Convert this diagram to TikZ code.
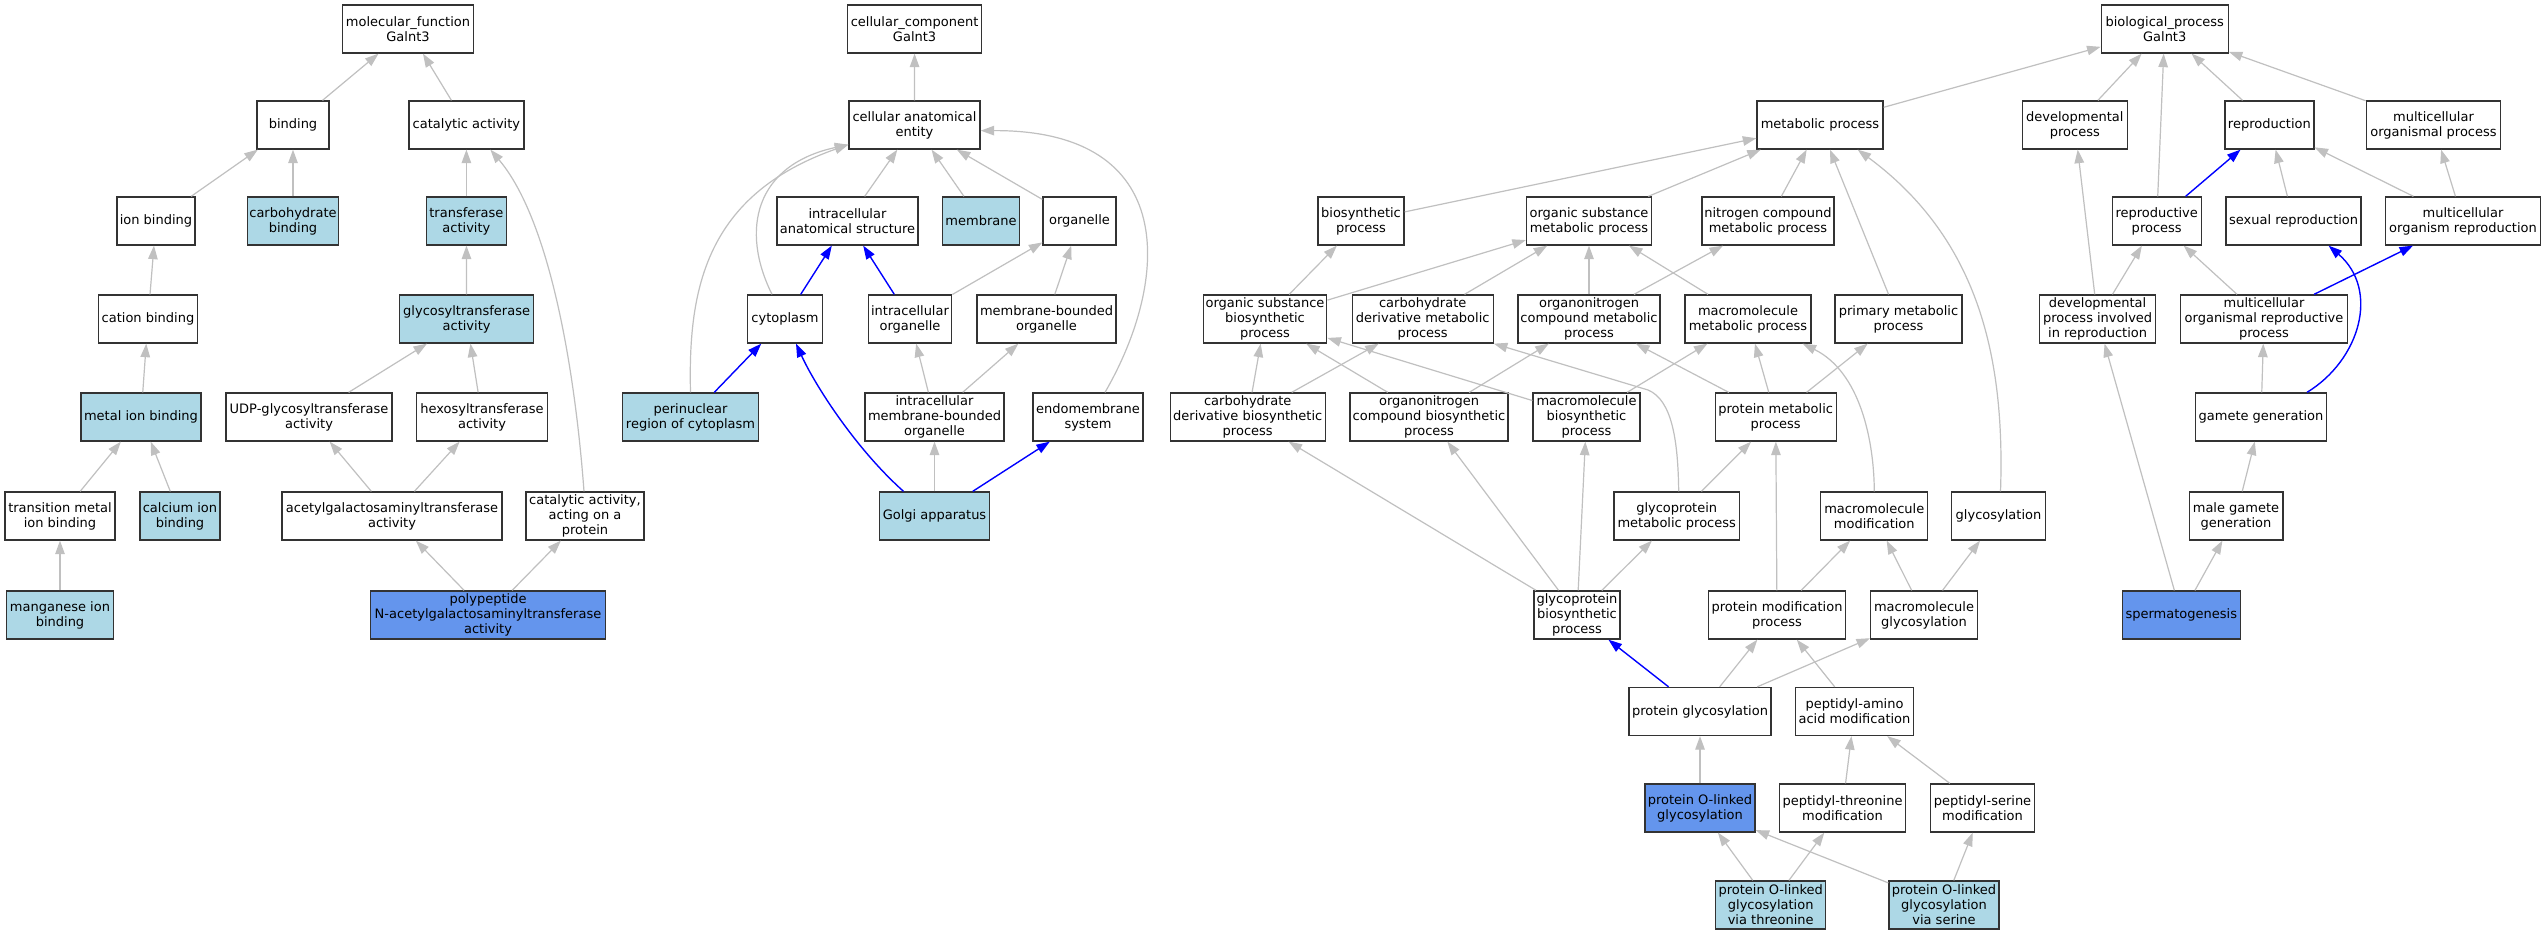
\documentclass[tikz,border=0pt]{standalone}
\usepackage{fontspec}
\setmainfont{DejaVu Sans}
\usetikzlibrary{arrows.meta}
\definecolor{lb}{HTML}{ADD8E6}
\definecolor{cb}{HTML}{6495ED}
\definecolor{eg}{HTML}{C0C0C0}
\definecolor{bd}{HTML}{333333}
\tikzset{
  box/.style={draw=bd, line width=1.3pt, fill=white, minimum height=48pt, inner xsep=2pt, inner ysep=1pt, align=center, font=\fontsize{13}{15}\selectfont},
  lbbox/.style={box, fill=lb},
  cbbox/.style={box, fill=cb},
  ge/.style={draw=eg, line width=1.2pt, -{Triangle[length=13.5pt,width=9.5pt]}, color=eg},
  be/.style={draw=blue, line width=1.4pt, -{Triangle[length=13.5pt,width=9.5pt]}, color=blue},
}
\begin{document}
\begin{tikzpicture}[x=1pt,y=-1pt]
\useasboundingbox (0,0) rectangle (2541,936);
\fill[white] (0,0) rectangle (2541,936);
% ---------- molecular function ----------
\node[box, minimum width=131pt] (mf) at (408,29) {molecular\_function\\Galnt3};
\node[box, minimum width=72pt] (bind) at (293,125) {binding};
\node[box, minimum width=115pt] (cat) at (466.4,125) {catalytic activity};
\node[box, minimum width=78pt] (ionb) at (156,221) {ion binding};
\node[lbbox, minimum width=91pt] (carbb) at (293,221) {carbohydrate\\binding};
\node[lbbox, minimum width=80pt] (trans) at (466.4,221) {transferase\\activity};
\node[box, minimum width=99pt] (cationb) at (148,319) {cation binding};
\node[lbbox, minimum width=134pt] (glyct) at (466.6,319) {glycosyltransferase\\activity};
\node[lbbox, minimum width=120pt] (metalb) at (141,417) {metal ion binding};
\node[box, minimum width=166pt] (udp) at (309,417) {UDP-glycosyltransferase\\activity};
\node[box, minimum width=130.5pt] (hexo) at (482,417) {hexosyltransferase\\activity};
\node[box, minimum width=110pt] (transm) at (60,516) {transition metal\\ion binding};
\node[lbbox, minimum width=80pt] (calc) at (180,516) {calcium ion\\binding};
\node[box, minimum width=220pt] (acetyl) at (392,516) {acetylgalactosaminyltransferase\\activity};
\node[box, minimum width=118pt] (catprot) at (585,516) {catalytic activity,\\acting on a\\protein};
\node[lbbox, minimum width=107pt] (mang) at (60,615) {manganese ion\\binding};
\node[cbbox, minimum width=235pt] (poly) at (488,615) {polypeptide\\N-acetylgalactosaminyltransferase\\activity};
% ---------- cellular component ----------
\node[box, minimum width=134pt] (cc) at (914.6,29) {cellular\_component\\Galnt3};
\node[box, minimum width=131pt] (cae) at (914.5,125) {cellular anatomical\\entity};
\node[box, minimum width=141pt] (ias) at (847.5,221) {intracellular\\anatomical structure};
\node[lbbox, minimum width=77.5pt] (memb) at (981,221) {membrane};
\node[box, minimum width=73pt] (org) at (1079.5,221) {organelle};
\node[box, minimum width=74.6pt] (cyto) at (785,319) {cytoplasm};
\node[box, minimum width=83.6pt] (io) at (910,319) {intracellular\\organelle};
\node[box, minimum width=139pt] (mbo) at (1046.5,319) {membrane-bounded\\organelle};
\node[lbbox, minimum width=136pt] (peri) at (690.5,417) {perinuclear\\region of cytoplasm};
\node[box, minimum width=139pt] (imbo) at (934.5,417) {intracellular\\membrane-bounded\\organelle};
\node[box, minimum width=110pt] (endo) at (1088,417) {endomembrane\\system};
\node[lbbox, minimum width=110pt] (golgi) at (934.5,516) {Golgi apparatus};
% ---------- biological process ----------
\node[box, minimum width=127pt] (bp) at (2164.7,29) {biological\_process\\Galnt3};
\node[box, minimum width=126pt] (mp) at (1820,125) {metabolic process};
\node[box, minimum width=105pt] (dev) at (2074.8,125) {developmental\\process};
\node[box, minimum width=89pt] (repro) at (2269.4,125) {reproduction};
\node[box, minimum width=134.5pt] (mop) at (2433.5,125) {multicellular\\organismal process};
\node[box, minimum width=86pt] (bs) at (1361,221) {biosynthetic\\process};
\node[box, minimum width=125pt] (osmp) at (1589,221) {organic substance\\metabolic process};
\node[box, minimum width=132pt] (ncmp) at (1768,221) {nitrogen compound\\metabolic process};
\node[box, minimum width=89pt] (rp) at (2156.7,221) {reproductive\\process};
\node[box, minimum width=135pt] (sr) at (2293.6,221) {sexual reproduction};
\node[box, minimum width=154.5pt] (mor) at (2463,221) {multicellular\\organism reproduction};
\node[box, minimum width=123.5pt] (osbp) at (1265,319) {organic substance\\biosynthetic\\process};
\node[box, minimum width=141pt] (cdmp) at (1422.7,319) {carbohydrate\\derivative metabolic\\process};
\node[box, minimum width=142pt] (oncmp) at (1589,319) {organonitrogen\\compound metabolic\\process};
\node[box, minimum width=126pt] (mmp) at (1748,319) {macromolecule\\metabolic process};
\node[box, minimum width=127pt] (pmp) at (1898.5,319) {primary metabolic\\process};
\node[box, minimum width=116pt] (dpir) at (2097.6,319) {developmental\\process involved\\in reproduction};
\node[box, minimum width=167pt] (morp) at (2264,319) {multicellular\\organismal reproductive\\process};
\node[box, minimum width=155pt] (cdbp) at (1247.7,417) {carbohydrate\\derivative biosynthetic\\process};
\node[box, minimum width=158pt] (oncbp) at (1429,417) {organonitrogen\\compound biosynthetic\\process};
\node[box, minimum width=107pt] (mbp) at (1586.5,417) {macromolecule\\biosynthetic\\process};
\node[box, minimum width=121pt] (protmp) at (1775.7,417) {protein metabolic\\process};
\node[box, minimum width=131pt] (gg) at (2261,417) {gamete generation};
\node[box, minimum width=125.4pt] (gmp) at (1676.7,516) {glycoprotein\\metabolic process};
\node[box, minimum width=107pt] (mm) at (1874.3,516) {macromolecule\\modification};
\node[box, minimum width=93.7pt] (glyc) at (1998.5,516) {glycosylation};
\node[box, minimum width=93.7pt] (mgg) at (2236,516) {male gamete\\generation};
\node[box, minimum width=86pt] (gbp) at (1577,615) {glycoprotein\\biosynthetic\\process};
\node[box, minimum width=137pt] (pmod) at (1777,615) {protein modification\\process};
\node[box, minimum width=106.7pt] (mg) at (1924,615) {macromolecule\\glycosylation};
\node[cbbox, minimum width=118pt] (sperm) at (2181.3,615) {spermatogenesis};
\node[box, minimum width=142pt] (pg) at (1700,711.5) {protein glycosylation};
\node[box, minimum width=118pt] (paam) at (1854.5,711.5) {peptidyl-amino\\acid modification};
\node[cbbox, minimum width=110pt] (pol) at (1700,808) {protein O-linked\\glycosylation};
\node[box, minimum width=126pt] (ptm) at (1842.5,808) {peptidyl-threonine\\modification};
\node[box, minimum width=104pt] (psm) at (1982.5,808) {peptidyl-serine\\modification};
\node[lbbox, minimum width=110pt] (vt) at (1770.7,905) {protein O-linked\\glycosylation\\via threonine};
\node[lbbox, minimum width=110pt] (vs) at (1944,905) {protein O-linked\\glycosylation\\via serine};
% ---------- edges: molecular function ----------
\draw[ge] (bind) -- (mf);
\draw[ge] (cat) -- (mf);
\draw[ge] (ionb) -- (bind);
\draw[ge] (carbb) -- (bind);
\draw[ge] (trans) -- (cat);
\draw[ge] (glyct) -- (trans);
\draw[ge] (cationb) -- (ionb);
\draw[ge] (metalb) -- (cationb);
\draw[ge] (transm) -- (metalb);
\draw[ge] (calc) -- (metalb);
\draw[ge] (mang) -- (transm);
\draw[ge] (udp) -- (glyct);
\draw[ge] (hexo) -- (glyct);
\draw[ge] (acetyl) -- (udp);
\draw[ge] (acetyl) -- (hexo);
\draw[ge] (poly) -- (acetyl);
\draw[ge] (poly) -- (catprot);
\draw[ge] ([xshift=-1pt]catprot.north) .. controls (575,370) and (550,220) .. ([xshift=24pt]cat.south);
% ---------- edges: cellular component ----------
\draw[ge] (cae) -- (cc);
\draw[ge] (ias) -- (cae);
\draw[ge] (memb) -- (cae);
\draw[ge] (org) -- (cae);
\draw[ge] ([xshift=-13pt]cyto.north) .. controls (740,230) and (755,165) .. ([yshift=5pt]cae.south west);
\draw[ge] (peri.north) .. controls (688,290) and (705,195) .. ([yshift=5pt]cae.south west);
\draw[ge] ([xshift=17pt]endo.north) .. controls (1170,280) and (1180,130) .. ([yshift=19pt]cae.south east);
\draw[ge] (io) -- (org);
\draw[ge] (mbo) -- (org);
\draw[ge] (imbo) -- (io);
\draw[ge] (imbo) -- (mbo);
\draw[ge] (golgi) -- (imbo);
\draw[be] (cyto) -- (ias);
\draw[be] (io) -- (ias);
\draw[be] (peri) -- (cyto);
\draw[be] ([xshift=-31pt]golgi.north) .. controls (855,448) and (815,385) .. ([xshift=11pt]cyto.south);
\draw[be] (golgi) -- (endo);
% ---------- edges: biological process ----------
\draw[ge] (mp) -- (bp);
\draw[ge] (dev) -- (bp);
\draw[ge] (rp) -- (bp);
\draw[ge] (repro) -- (bp);
\draw[ge] (mop) -- (bp);
\draw[ge] (bs) -- (mp);
\draw[ge] (osmp) -- (mp);
\draw[ge] (ncmp) -- (mp);
\draw[ge] (pmp) -- (mp);
\draw[ge] ([xshift=2pt]glyc.north) .. controls (2005,360) and (1980,240) .. ([xshift=-26pt]mp.south east);
\draw[ge] (sr) -- (repro);
\draw[ge] (mor) -- (repro);
\draw[ge] (mor) -- (mop);
\draw[ge] (osbp) -- (bs);
\draw[ge] (osbp) -- (osmp);
\draw[ge] (cdmp) -- (osmp);
\draw[ge] (oncmp) -- (osmp);
\draw[ge] (oncmp) -- (ncmp);
\draw[ge] (mmp) -- (osmp);
\draw[ge] (dpir) -- (dev);
\draw[ge] (dpir) -- (rp);
\draw[ge] (morp) -- (rp);
\draw[ge] (cdbp) -- (osbp);
\draw[ge] (cdbp) -- (cdmp);
\draw[ge] (oncbp) -- (osbp);
\draw[ge] (oncbp) -- (oncmp);
\draw[ge] (mbp) -- (osbp);
\draw[ge] (mbp) -- (mmp);
\draw[ge] (protmp) -- (oncmp);
\draw[ge] (protmp) -- (mmp);
\draw[ge] (protmp) -- (pmp);
\draw[ge] (gg) -- (morp);
\draw[ge] ([xshift=2pt]gmp.north) .. controls (1678,440) and (1672,400) .. (1648,390) -- (cdmp.south east);
\draw[ge] (gmp) -- (protmp);
\draw[ge] (mm.north) .. controls (1874,440) and (1860,372) .. ([xshift=-9pt]mmp.south east);
\draw[ge] (mgg) -- (gg);
\draw[ge] (gbp) -- (cdbp);
\draw[ge] (gbp) -- (oncbp);
\draw[ge] (gbp) -- (mbp);
\draw[ge] (gbp) -- (gmp);
\draw[ge] (pmod) -- (protmp);
\draw[ge] (pmod) -- (mm);
\draw[ge] (mg) -- (mm);
\draw[ge] (mg) -- (glyc);
\draw[ge] (sperm) -- (mgg);
\draw[ge] (sperm) -- (dpir);
\draw[ge] (pg) -- (pmod);
\draw[ge] (pg) -- (mg);
\draw[ge] (paam) -- (pmod);
\draw[ge] (pol) -- (pg);
\draw[ge] (ptm) -- (paam);
\draw[ge] (psm) -- (paam);
\draw[ge] (vt) -- (pol);
\draw[ge] (vt) -- (ptm);
\draw[ge] (vs) -- (pol);
\draw[ge] (vs) -- (psm);
\draw[be] (rp) -- (repro);
\draw[be] (morp) -- (mor);
\draw[be] (pg) -- (gbp);
\draw[be] ([xshift=46pt]gg.north) .. controls (2360,360) and (2380,290) .. ([xshift=35pt]sr.south);
\end{tikzpicture}
\end{document}
